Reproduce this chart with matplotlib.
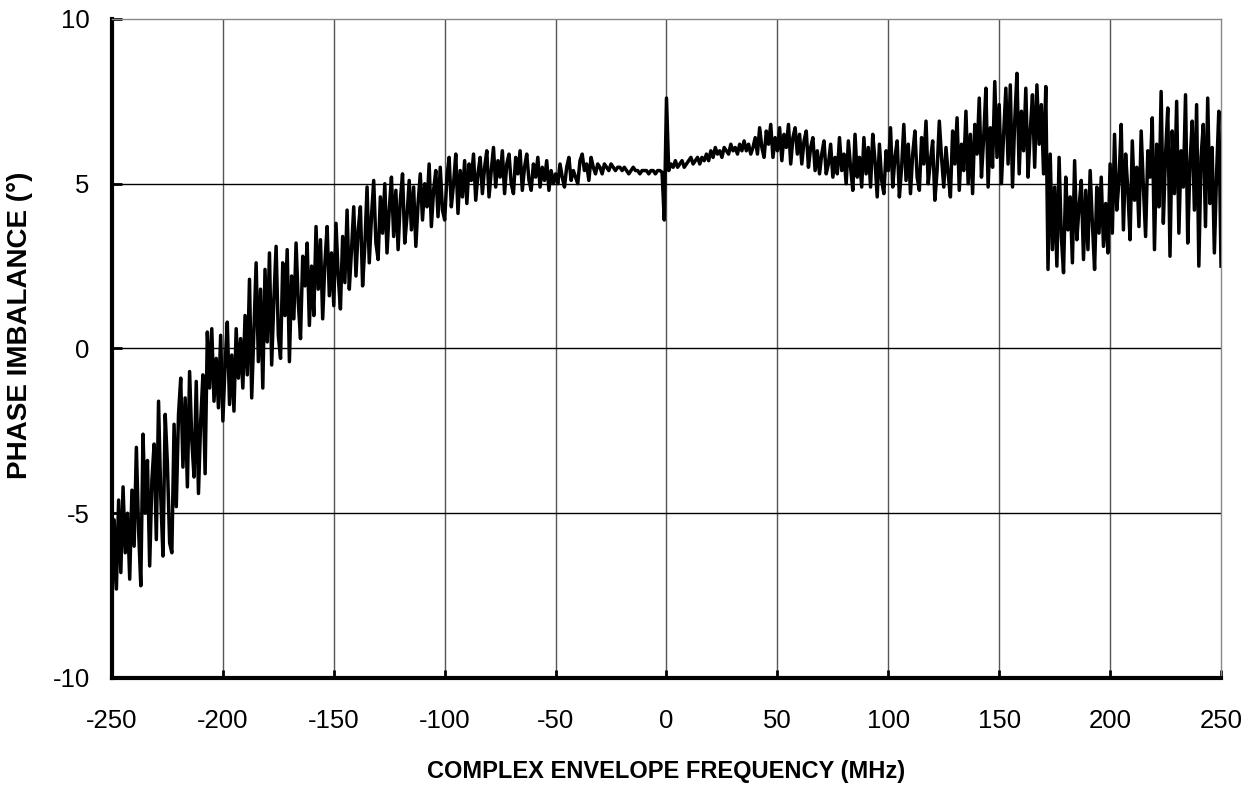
import numpy as np
import matplotlib
matplotlib.use("Agg")
import matplotlib.pyplot as plt

plt.rcParams['font.family'] = ['Liberation Sans', 'DejaVu Sans']
plt.rcParams['axes.unicode_minus'] = False

freq_start = -250
freq_step = 1

phase = [
    -7.8, -5.2, -7.3, -4.6, -6.8, -4.2, -6.2, -5.0, -7.0, -4.3,
    -6.0, -3.0, -5.5, -7.2, -2.6, -5.0, -3.4, -6.6, -4.0, -2.9,
    -5.8, -1.6, -4.5, -6.3, -2.0, -3.5, -5.9, -6.2, -2.3, -4.8,
    -2.0, -0.9, -3.6, -1.5, -4.2, -0.7, -2.8, -3.9, -1.0, -4.4,
    -2.2, -0.8, -3.8, 0.5, -1.2, 0.6, -1.6, -0.3, -1.8, 0.4,
    -2.2, -0.5, 0.8, -1.7, -0.2, -1.9, 0.6, -0.9, 0.3, -1.2,
    1.0, -0.8, 2.1, -1.5, 0.6, 2.6, -0.4, 1.8, -1.2, 2.4,
    0.2, 2.9, -0.5, 1.5, 3.1, 0.4, -0.3, 2.6, 1.0, 3.0,
    -0.4, 2.2, 0.9, 3.2, 1.4, 0.3, 2.8, 1.9, 3.2, 0.7,
    2.5, 1.0, 3.7, 1.8, 3.3, 0.9, 2.6, 3.7, 1.6, 2.9,
    1.3, 3.8, 2.2, 1.2, 3.4, 2.0, 4.2, 1.8, 3.0, 4.3,
    2.2, 3.6, 4.3, 1.9, 3.1, 4.9, 2.6, 4.0, 5.1, 3.2,
    2.7, 4.6, 3.5, 5.0, 2.9, 4.2, 5.2, 3.4, 4.8, 3.0,
    4.5, 5.3, 3.2, 4.0, 5.1, 3.6, 4.9, 3.1, 4.4, 5.3,
    3.9, 5.0, 4.3, 5.6, 3.7, 4.8, 5.4, 4.0, 5.5, 4.2,
    3.9, 5.2, 5.8, 4.3, 5.0, 5.9, 4.1, 5.4, 4.6, 5.7,
    4.4, 5.6, 5.1, 5.9, 4.5, 5.3, 5.8, 4.7, 5.5, 6.0,
    4.6, 5.4, 6.1, 4.9, 5.7, 5.2, 6.0, 4.7, 5.6, 5.9,
    5.0, 4.7, 5.8, 5.3, 6.0, 4.8, 5.5, 5.9, 5.1, 4.8,
    5.6, 5.2, 5.8, 4.9, 5.5, 5.1, 5.7, 4.8, 5.4, 5.0,
    5.3, 5.0, 5.6, 5.2, 4.9, 5.5, 5.8, 5.1, 5.4, 5.2,
    5.0, 5.7, 5.9, 5.4, 5.6, 5.1, 5.8, 5.5, 5.3, 5.6,
    5.5, 5.3, 5.6, 5.5, 5.4, 5.6, 5.5, 5.4, 5.5, 5.5,
    5.4, 5.5, 5.4, 5.3, 5.4, 5.5, 5.4, 5.4, 5.3, 5.4,
    5.4, 5.4, 5.3, 5.4, 5.4, 5.3, 5.4, 5.4, 5.35, 3.9,
    7.6, 5.4, 5.6, 5.5, 5.7, 5.5, 5.6, 5.7, 5.5, 5.6,
    5.7, 5.8, 5.6, 5.7, 5.8, 5.6, 5.8, 5.7, 5.9, 5.7,
    6.0, 5.8, 6.1, 5.9, 6.0, 5.8, 6.1, 6.0, 5.9, 6.2,
    6.0, 6.1, 5.9, 6.2, 6.0, 6.3, 6.0, 6.2, 5.9, 6.1,
    6.4, 5.9, 6.7, 6.1, 5.8, 6.6, 6.2, 6.8, 5.8, 6.4,
    6.0, 6.7, 5.7, 6.5, 6.1, 6.8, 5.6, 6.4, 6.7, 5.9,
    6.5, 5.6, 6.3, 6.6, 5.5, 6.1, 6.4, 5.4, 6.0, 5.3,
    5.9, 6.3, 5.3, 5.6, 6.2, 5.2, 5.8, 5.3, 6.4, 5.4,
    5.9, 5.0, 6.3, 5.5, 4.8, 6.5, 5.2, 5.8, 4.9, 6.4,
    5.3, 6.1, 4.9, 6.5, 5.7, 4.6, 6.2, 5.1, 4.7, 6.0,
    5.4, 6.7, 4.9, 5.8, 6.3, 4.6, 5.5, 6.8, 5.1, 6.2,
    4.7, 5.9, 6.6, 5.2, 4.8, 6.4, 5.6, 6.9, 5.0, 5.7,
    6.3, 4.5, 5.4, 6.9, 5.8, 4.9, 6.1, 5.3, 4.6, 6.6,
    5.6, 7.0, 4.8, 6.2, 5.4, 7.2, 5.0, 6.5, 4.7, 6.8,
    5.9, 7.6, 5.2, 6.4, 7.9, 4.9, 6.7, 5.5, 8.1, 5.8,
    7.4, 5.0, 6.5, 7.9, 5.6, 8.0, 4.9, 6.9, 8.35, 5.3,
    7.2, 6.0, 7.9, 5.2, 6.6, 7.7, 5.5, 8.0, 6.2, 7.4,
    5.3, 7.95, 2.4, 5.9, 3.0, 4.9, 2.5, 5.8, 3.4, 2.3,
    5.2, 3.6, 4.6, 2.6, 5.7, 3.3, 4.3, 5.1, 2.7, 4.8,
    3.0, 5.4, 3.8, 2.4, 4.9, 3.5, 5.2, 3.1, 4.4, 2.9,
    5.6, 3.5, 6.5, 4.2, 5.1, 6.8, 3.6, 5.9, 4.8, 3.3,
    6.3, 4.5, 5.5, 3.7, 6.6, 4.9, 3.4, 6.0, 5.2, 7.0,
    3.0, 6.2, 4.3, 7.8, 3.8, 5.9, 7.3, 2.8, 6.6, 4.7,
    7.5, 3.5, 6.0, 4.9, 7.7, 3.2, 5.6, 6.9, 4.2, 7.4,
    2.5, 5.8, 6.8, 3.7, 7.6, 4.4, 6.1, 2.9, 5.3, 7.2,
    2.5,
]

x_ticks = [-250, -200, -150, -100, -50, 0, 50, 100, 150, 200, 250]
y_ticks = [-10, -5, 0, 5, 10]
x_label = "COMPLEX ENVELOPE FREQUENCY (MHz)"
y_label = "PHASE IMBALANCE (°)"

freq = freq_start + freq_step * np.arange(len(phase))

fig = plt.figure(figsize=(12.58, 7.88), dpi=100)
ax = fig.add_axes([0.089, 0.1396, 0.8816, 0.8363])

ax.plot(freq, phase, color='black', linewidth=2.5, zorder=3)

ax.set_xlim(-250, 250)
ax.set_ylim(-10, 10)
ax.set_xticks(x_ticks)
ax.set_yticks(y_ticks)
ax.set_xticklabels([str(v) for v in x_ticks])
ax.set_yticklabels([str(v) for v in y_ticks])

for v in x_ticks[1:-1]:
    ax.axvline(v, color='#555555', linewidth=1.0, zorder=1)
for v in y_ticks[1:-1]:
    ax.axhline(v, color='black', linewidth=1.0, zorder=1)

ax.spines['left'].set_linewidth(3)
ax.spines['bottom'].set_linewidth(3)
ax.spines['top'].set_color('#888888')
ax.spines['right'].set_color('#888888')
ax.spines['top'].set_linewidth(1.0)
ax.spines['right'].set_linewidth(1.0)

ax.tick_params(axis='y', direction='in', length=7, width=2, labelsize=18.5, pad=16)
ax.tick_params(axis='x', direction='in', length=6, width=2, labelsize=18.5, pad=22)

ax.set_xlabel(x_label, fontsize=17, fontweight='bold', labelpad=20)
ax.set_ylabel(y_label, fontsize=20, fontweight='bold')
ax.yaxis.set_label_coords(-0.071, 0.535)

fig.savefig("out.png", dpi=100)
